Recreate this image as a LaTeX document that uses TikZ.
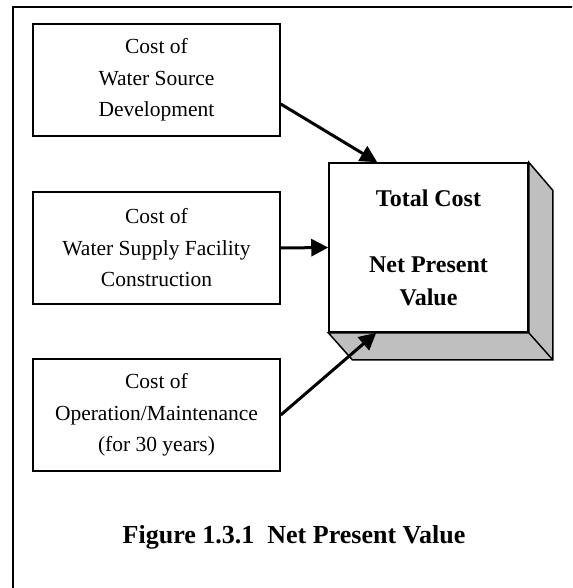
\documentclass[tikz,border=0pt]{standalone}
\usepackage{fontspec}
\setmainfont{Liberation Serif}
\usetikzlibrary{arrows.meta}
\tikzset{
  costbox/.style={draw=black, line width=0.75pt, fill=white, minimum width=123.5pt, minimum height=56pt, align=center, inner sep=0pt, font=\fontsize{10.75}{15.75}\selectfont},
  frontbox/.style={draw=black, line width=0.75pt, fill=white, minimum width=99.5pt, minimum height=84.5pt, align=center, inner sep=0pt, font=\fontsize{12}{16.5}\selectfont\bfseries},
  arr/.style={line width=1.5pt, -{Triangle[length=8.5pt,width=8.5pt]}},
  depth/.style={draw=black, line width=0.75pt, fill=black!25, line join=miter}
}
\begin{document}
\begin{tikzpicture}[x=0.5pt,y=-0.5pt]
\useasboundingbox (0,0) rectangle (572,588);
\clip (0,0) rectangle (572,588);
% outer frame (only top and left visible)
\draw[line width=1.25pt] (13,700) -- (13,7) -- (700,7);
% input boxes
\node[costbox] (box1) at (156.5,80) {Cost of\\Water Source\\Development};
\node[costbox] (box2) at (156.5,248) {Cost of\\Water Supply Facility\\Construction};
\node[costbox] (box3) at (156.5,415) {Cost of\\Operation/Maintenance\\(for 30 years)};
% total box
\node[frontbox] (total) at (428.5,247.5) {Total Cost\\[16.5pt]Net Present\\Value};
\filldraw[depth] (total.north east) -- ++(24,28) -- ([shift={(24,27)}]total.south east) -- ([shift={(24,27)}]total.south west) -- (total.south west) -- (total.south east) -- cycle;
\draw[line width=0.75pt] (total.south east) -- ([shift={(24,27)}]total.south east);
% arrows
\draw[arr] ([yshift=-12pt]box1.east) -- ([xshift=24.5pt]total.north west);
\draw[arr] (box2.east) -- (total.west);
\draw[arr] (box3.east) -- ([xshift=24pt]total.south west);
% caption
\node[font=\fontsize{13}{15}\selectfont\bfseries] (caption) at (294,537) {Figure 1.3.1\ \ Net Present Value};
\end{tikzpicture}
\end{document}
